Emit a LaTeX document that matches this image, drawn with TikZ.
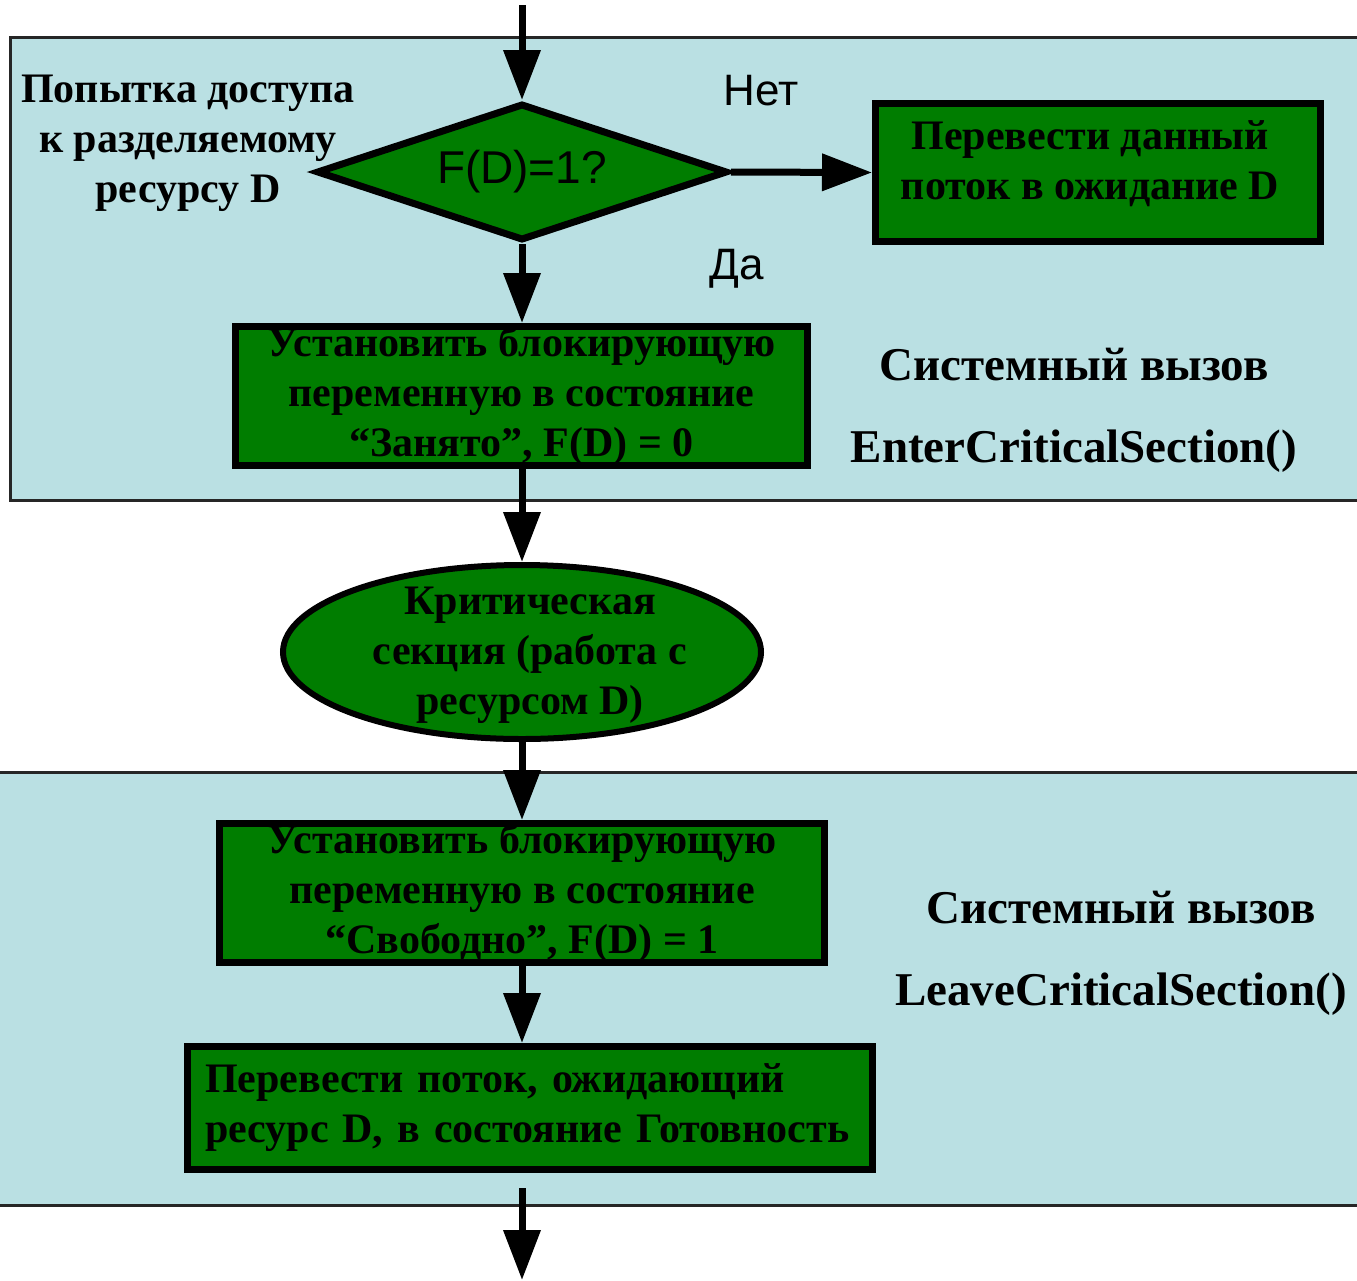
\documentclass[tikz,border=0pt]{standalone}
\usepackage{fontspec}
\setmainfont{Liberation Serif}
\newfontfamily\lsans{Liberation Sans}
\usetikzlibrary{shapes.geometric,arrows.meta}
\definecolor{panelblue}{RGB}{186,224,227}
\definecolor{boxgreen}{RGB}{0,125,0}
\newcommand\boxtext{\bfseries\fontsize{42}{50}\selectfont}
\newcommand\sidetext{\bfseries\fontsize{47}{50}\selectfont}
\begin{document}
\begin{tikzpicture}[x=1pt,y=-1pt,
  stepbox/.style={draw=black, fill=boxgreen, line width=7pt, inner sep=0pt, font=\boxtext, align=center},
  decbox/.style={diamond, shape aspect=2.9, draw=black, fill=boxgreen, line width=7pt, inner sep=0pt, font=\lsans\fontsize{46}{50}\selectfont},
  ellbox/.style={ellipse, draw=black, fill=boxgreen, line width=6pt, inner sep=0pt},
  plain/.style={inner sep=0pt, font=\boxtext, align=center},
  answer/.style={inner sep=0pt, font=\lsans\fontsize{44}{50}\selectfont},
  side/.style={inner sep=0pt, font=\sidetext, anchor=base},
  arr/.style={line width=7pt, -{Triangle[length=50pt,width=36pt]}},
  panelline/.style={line width=3pt, draw=black!85}]
\useasboundingbox (0,0) rectangle (1357,1280);
% panels
\fill[panelblue] (10,37) rectangle (1380,500);
\draw[panelline] (1380,37) -- (10,37) -- (10,500) -- (1380,500);
\fill[panelblue] (-10,772) rectangle (1380,1205);
\draw[panelline] (-10,772) -- (1380,772);
\draw[panelline] (-10,1205) -- (1380,1205);
% nodes
\coordinate (startpt) at (522,5);
\coordinate (endpt) at (522,1280);
\node[decbox, minimum width=411, minimum height=137] (dec) at (522,172) {F(D)=1?};
\node[stepbox, minimum width=445, minimum height=138] (wait) at (1098,172.5) {};
\node[plain] (waittext) at (1090,164) {Перевести данный\\поток в ожидание D};
\node[stepbox, minimum width=572, minimum height=139] (lock) at (521.5,396) {Установить блокирующую\\переменную в состояние\\“Занято”, F(D) = 0};
\node[ellbox, minimum width=478, minimum height=174] (crit) at (522,652) {};
\node[plain] (crittext) at (530,655) {Критическая\\секция (работа с\\ресурсом D)};
\node[stepbox, minimum width=605, minimum height=139] (unlock) at (522,893) {Установить блокирующую\\переменную в состояние\\“Свободно”, F(D) = 1};
\node[stepbox, text width=650, inner xsep=17.5pt, align=left, minimum height=123] (ready) at (530,1108) {Перевести поток, ожидающий\\ресурс D, в состояние Готовность};
\node[plain] (attempt) at (188,143) {Попытка доступа\\к разделяемому\\ресурсу D};
\node[answer] (no) at (761,91) {Нет};
\node[answer] (yes) at (737,269) {Да};
\node[side] (sys1) at (1074,380) {Системный вызов};
\node[side] (enter) at (1074,462) {EnterCriticalSection()};
\node[side] (sys2) at (1121,923) {Системный вызов};
\node[side] (leave) at (1121,1005) {LeaveCriticalSection()};
% connectors
\draw[arr] (startpt) -- (dec.north);
\draw[arr] (dec.east) -- (wait.west);
\draw[arr] (dec.south) -- (lock.north -| dec.south);
\draw[arr] (lock.south -| dec.south) -- (crit.north);
\draw[arr] (crit.south) -- (unlock.north -| crit.south);
\draw[arr] (unlock.south -| crit.south) -- (ready.north -| crit.south);
\draw[arr, shorten <=15pt] (ready.south -| endpt) -- (endpt);
\end{tikzpicture}
\end{document}
